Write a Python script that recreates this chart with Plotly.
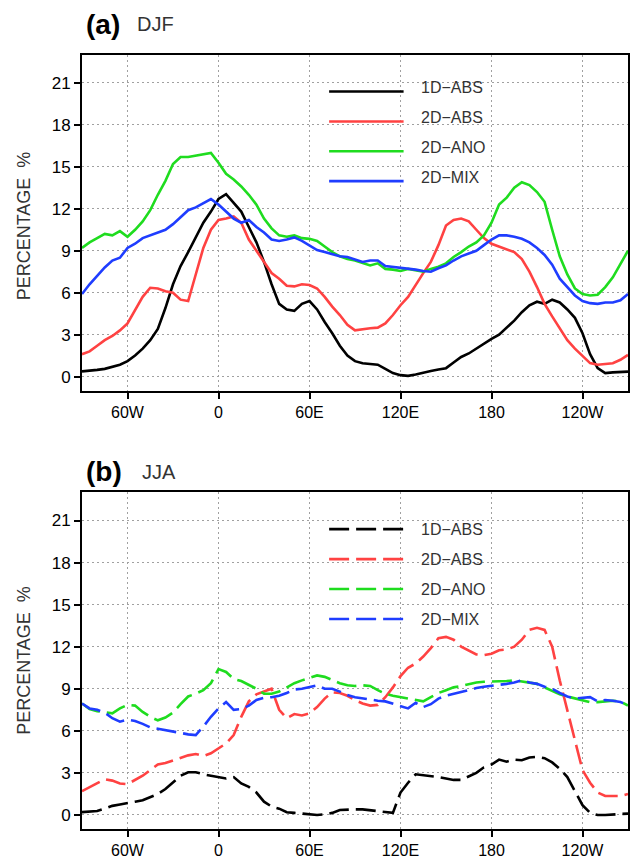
import plotly.graph_objects as go

# Longitude grid (degrees east; negative = west, >180 = west of dateline)
lon = list(range(-90, 275, 5))

# Tick labels
x_tickvals = [-60, 0, 60, 120, 180, 240]
x_ticktext = ["60W", "0", "60E", "120E", "180", "120W"]
y_tickvals = [0, 3, 6, 9, 12, 15, 18, 21]

series_names = ["1D\u2212ABS", "2D\u2212ABS", "2D\u2212ANO", "2D\u2212MIX"]

# (a) DJF
djf_1d_abs = [0.37, 0.4, 0.48, 0.55, 0.7, 0.85, 1.1, 1.5, 2.0, 2.6, 3.4, 4.9, 6.6, 7.9, 8.9, 10.0, 11.0, 11.8,
              12.7, 13.05, 12.4, 11.8, 10.7, 9.6, 8.2, 6.6, 5.2, 4.8, 4.7, 5.2, 5.4, 4.8, 3.9, 3.1, 2.2, 1.5,
              1.1, 0.95, 0.9, 0.85, 0.55, 0.25, 0.1, 0.05, 0.15, 0.3, 0.4, 0.5, 0.6, 1.0, 1.4, 1.65, 2.0, 2.4,
              2.7, 3.0, 3.5, 4.0, 4.6, 5.1, 5.35, 5.2, 5.5, 5.3, 4.8, 4.2, 3.1, 1.6, 0.6, 0.25, 0.3, 0.35, 0.35]
djf_2d_abs = [1.6, 1.8, 2.2, 2.6, 2.9, 3.3, 3.8, 4.8, 5.7, 6.35, 6.3, 6.1, 6.0, 5.5, 5.4, 7.3, 9.2, 10.5,
              11.2, 11.3, 11.45, 11.0, 9.8, 9.0, 8.2, 7.4, 7.0, 6.5, 6.45, 6.6, 6.55, 6.3, 5.7, 5.0, 4.4, 3.7,
              3.3, 3.4, 3.45, 3.5, 3.8, 4.4, 5.1, 5.7, 6.6, 7.4, 8.2, 9.4, 10.8, 11.2, 11.3, 11.1, 10.5, 9.9,
              9.5, 9.3, 9.1, 8.9, 8.4, 7.5, 6.4, 5.2, 4.3, 3.4, 2.6, 2.0, 1.5, 0.96, 0.85, 0.9, 0.95, 1.2, 1.55]
djf_2d_ano = [9.2, 9.6, 9.9, 10.2, 10.1, 10.4, 10.0, 10.5, 11.1, 11.9, 13.0, 14.0, 15.2, 15.7, 15.7, 15.8, 15.85, 16.0,
              15.3, 14.5, 14.1, 13.6, 13.0, 12.3, 11.3, 10.6, 10.1, 10.0, 10.1, 9.9, 9.85, 9.7, 9.3, 8.9, 8.6, 8.4,
              8.3, 8.1, 7.95, 8.1, 7.7, 7.65, 7.55, 7.7, 7.6, 7.5, 7.7, 7.85, 8.1, 8.55, 8.9, 9.3, 9.6, 10.1,
              11.0, 12.3, 12.8, 13.5, 13.9, 13.7, 13.2, 12.5, 10.5, 8.6, 7.3, 6.3, 5.9, 5.8, 5.85, 6.4, 7.1, 8.0, 9.0]
djf_2d_mix = [5.9, 6.6, 7.2, 7.8, 8.3, 8.5, 9.2, 9.5, 9.9, 10.1, 10.3, 10.5, 10.9, 11.4, 11.9, 12.1, 12.4, 12.7,
              12.3, 11.8, 11.3, 11.0, 11.2, 10.7, 10.3, 9.8, 9.7, 9.8, 9.95, 9.7, 9.4, 9.05, 8.9, 8.75, 8.6, 8.55,
              8.4, 8.2, 8.3, 8.3, 7.9, 7.85, 7.8, 7.7, 7.65, 7.55, 7.5, 7.75, 7.95, 8.3, 8.6, 8.8, 9.0, 9.4,
              9.8, 10.1, 10.1, 10.0, 9.85, 9.6, 9.2, 8.7, 8.0, 7.0, 6.4, 5.8, 5.4, 5.25, 5.2, 5.3, 5.3, 5.45, 5.9]

# (b) JJA
jja_1d_abs = [0.2, 0.25, 0.28, 0.45, 0.65, 0.75, 0.87, 0.95, 1.05, 1.25, 1.5, 1.85, 2.3, 2.8, 3.05, 3.05, 2.9, 2.8,
              2.75, 2.6, 2.7, 2.25, 2.0, 1.6, 0.95, 0.6, 0.45, 0.2, 0.15, 0.1, 0.05, 0.0, 0.05, 0.15, 0.35, 0.4,
              0.4, 0.4, 0.35, 0.28, 0.2, 0.15, 1.6, 2.3, 2.9, 2.85, 2.75, 2.7, 2.6, 2.5, 2.5, 2.75, 3.0, 3.4,
              3.6, 3.95, 3.8, 3.95, 3.9, 4.1, 4.15, 4.05, 3.75, 3.3, 2.7, 1.7, 0.7, 0.15, 0.0, 0.0, 0.05, 0.1, 0.1]
jja_2d_abs = [1.7, 2.0, 2.3, 2.55, 2.45, 2.25, 2.2, 2.5, 2.8, 3.2, 3.6, 3.7, 3.9, 4.1, 4.25, 4.35, 4.2, 4.4,
              4.75, 5.1, 5.7, 7.0, 8.1, 8.6, 8.8, 9.0, 7.5, 6.9, 7.2, 7.1, 7.25, 7.7, 8.3, 8.75, 8.7, 8.5,
              8.2, 7.95, 7.8, 7.85, 8.4, 9.1, 9.9, 10.5, 10.8, 11.3, 11.9, 12.6, 12.7, 12.5, 12.0, 11.7, 11.45, 11.4,
              11.5, 11.75, 11.8, 12.0, 12.5, 13.2, 13.35, 13.2, 12.0, 9.6, 7.5, 5.2, 3.2, 2.3, 1.6, 1.35, 1.35, 1.35, 1.5]
jja_2d_ano = [7.95, 7.55, 7.4, 7.3, 7.25, 7.6, 7.85, 7.8, 7.35, 7.0, 6.75, 6.95, 7.3, 7.9, 8.45, 8.65, 8.9, 9.4,
              10.4, 10.2, 9.7, 9.55, 9.3, 9.0, 8.65, 8.65, 8.8, 9.1, 9.4, 9.6, 9.8, 9.95, 9.85, 9.6, 9.4, 9.25,
              9.2, 9.25, 9.2, 8.9, 8.65, 8.5, 8.4, 8.3, 8.2, 8.1, 8.4, 8.7, 8.9, 9.1, 9.2, 9.35, 9.45, 9.5,
              9.5, 9.5, 9.55, 9.6, 9.5, 9.45, 9.35, 9.1, 8.85, 8.6, 8.45, 8.3, 8.2, 8.05, 8.05, 8.1, 8.15, 8.1, 7.8]
jja_2d_mix = [7.95, 7.6, 7.5, 7.3, 6.9, 6.65, 6.8, 6.7, 6.5, 6.25, 6.15, 6.05, 5.9, 5.8, 5.75, 5.7, 6.3, 7.0,
              7.6, 8.05, 7.5, 7.55, 7.8, 8.2, 8.35, 8.4, 8.5, 8.7, 8.95, 9.0, 9.1, 9.25, 9.0, 9.0, 8.8, 8.55,
              8.4, 8.3, 8.2, 8.15, 8.1, 7.95, 7.75, 7.6, 8.0, 7.7, 7.9, 8.3, 8.5, 8.65, 8.75, 8.9, 9.05, 9.15,
              9.2, 9.25, 9.35, 9.45, 9.6, 9.45, 9.35, 9.15, 9.0, 8.7, 8.45, 8.3, 8.35, 8.4, 8.1, 8.2, 8.15, 8.05, 7.85]

colors = ["#000000", "#ff4242", "#1fdc1f", "#1f3dff"]
FONT = "Liberation Sans, Arial, Helvetica, sans-serif"

fig = go.Figure()

panels = [
    ("x", "y", [djf_1d_abs, djf_2d_abs, djf_2d_ano, djf_2d_mix], "solid"),
    ("x2", "y2", [jja_1d_abs, jja_2d_abs, jja_2d_ano, jja_2d_mix], "20px,7px"),
]
for xa, ya, data, dash in panels:
    for name, vals, col in zip(series_names, data, colors):
        fig.add_trace(go.Scatter(x=lon, y=vals, mode="lines", name=name, xaxis=xa, yaxis=ya,
                                 line=dict(color=col, width=2.6, dash=dash), showlegend=False,
                                 hoverinfo="skip"))

axis_common = dict(showline=True, linecolor="black", linewidth=2, mirror=True,
                   ticks="outside", ticklen=6, tickwidth=2, tickcolor="black",
                   showgrid=True, gridcolor="#a0a0a0", gridwidth=1.3, griddash="2px,3px",
                   zeroline=False)

xa_kw = dict(axis_common, range=[-90, 270], tickvals=x_tickvals, ticktext=x_ticktext,
             tickfont=dict(family=FONT, size=16, color="black"))
ya_kw = dict(axis_common, range=[-1, 23], tickvals=y_tickvals,
             tickfont=dict(family=FONT, size=17, color="black"))

fig.update_layout(
    width=635, height=864,
    margin=dict(l=82, r=5, t=55, b=27),
    paper_bgcolor="white", plot_bgcolor="white",
    xaxis=dict(xa_kw, anchor="y", domain=[0, 1]),
    yaxis=dict(ya_kw, anchor="x", domain=[0.5665, 1.0]),
    xaxis2=dict(xa_kw, anchor="y2", domain=[0, 1]),
    yaxis2=dict(ya_kw, anchor="x2", domain=[0, 0.4348]),
)

# Legends drawn inside each panel
leg_line_y = [0.891, 0.802, 0.713, 0.624]
for (xa, ya, _, dash), txt_off in zip(panels, [0.012, 0.0]):
    xref = f"{xa} domain"
    yref = f"{ya} domain"
    for name, col, yy in zip(series_names, colors, leg_line_y):
        fig.add_shape(type="line", xref=xref, yref=yref, x0=0.4526, x1=0.589, y0=yy, y1=yy,
                      line=dict(color=col, width=2.6, dash=dash))
        fig.add_annotation(xref=xref, yref=yref, x=0.617, y=yy + txt_off, text=name, showarrow=False,
                           xanchor="left", yanchor="middle",
                           font=dict(family=FONT, size=16, color="#333333"))

# Panel titles
for lab, season, ypos, xs in [("(a)", "DJF", 1.0396, 0.0967), ("(b)", "JJA", 0.4616, 0.1058)]:
    fig.add_annotation(xref="paper", yref="paper", x=0.004, y=ypos, text=f"<b>{lab}</b>", showarrow=False,
                       xanchor="left", yanchor="middle", font=dict(family=FONT, size=28, color="black"))
    fig.add_annotation(xref="paper", yref="paper", x=xs, y=ypos, text=season, showarrow=False,
                       xanchor="left", yanchor="middle", font=dict(family=FONT, size=20, color="#333333"))

# Y-axis titles
for ypos in [0.7788, 0.2174]:
    fig.add_annotation(xref="paper", yref="paper", x=-0.106, y=ypos, text="PERCENTAGE  %",
                       textangle=-90, showarrow=False, xanchor="center", yanchor="middle",
                       font=dict(family=FONT, size=18, color="#333333"))

fig.write_html("out.html")
